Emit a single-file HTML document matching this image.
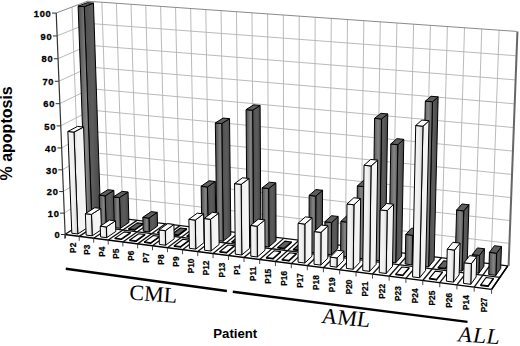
<!DOCTYPE html>
<html><head><meta charset="utf-8"><style>
html,body{margin:0;padding:0;background:#fff;}
body{width:520px;height:346px;overflow:hidden;position:relative;}
svg{position:absolute;left:0;top:0;}
.yt{font-family:"Liberation Sans",sans-serif;font-weight:bold;font-size:8.6px;letter-spacing:0.7px;fill:#000;stroke:#000;stroke-width:0.3px;}
.ct{font-family:"Liberation Sans",sans-serif;font-weight:bold;font-size:8px;fill:#000;stroke:#000;stroke-width:0.2px;}
.gl{font-family:"Liberation Serif",serif;font-size:22px;fill:#000;}
.ax{font-family:"Liberation Sans",sans-serif;font-weight:bold;fill:#000;}
</style></head><body>
<svg width="520" height="346" viewBox="0 0 520 346">
<defs>
<linearGradient id="df" x1="0" y1="0" x2="1" y2="0"><stop offset="0" stop-color="#464646"/><stop offset="0.2" stop-color="#5e5e5e"/><stop offset="0.6" stop-color="#858585"/><stop offset="0.9" stop-color="#666"/><stop offset="1" stop-color="#4a4a4a"/></linearGradient>
<linearGradient id="ds" x1="0" y1="0" x2="1" y2="0"><stop offset="0" stop-color="#4e4e4e"/><stop offset="0.5" stop-color="#5c5c5c"/><stop offset="1" stop-color="#454545"/></linearGradient>
<linearGradient id="wf" x1="0" y1="0" x2="1" y2="0"><stop offset="0" stop-color="#f4f4f4"/><stop offset="0.6" stop-color="#f0f0f0"/><stop offset="0.9" stop-color="#d6d6d6"/><stop offset="1" stop-color="#c4c4c4"/></linearGradient>
<linearGradient id="ws" x1="0" y1="0" x2="1" y2="0"><stop offset="0" stop-color="#d4d4d4"/><stop offset="0.25" stop-color="#f2f2f2"/><stop offset="1" stop-color="#f6f6f6"/></linearGradient>
</defs>
<polygon points="94.89,215.17 507.79,265.89 516.63,31.42 87.45,1.23" fill="#fff" stroke="none"/>
<polygon points="64.90,234.51 94.89,215.17 87.45,1.23 56.01,13.07" fill="#fff" stroke="none"/>
<polyline points="64.04,213.11 94.17,194.47 508.64,243.29" stroke="#b2b2b2" stroke-width="0.9" fill="none"/>
<polyline points="63.17,191.55 93.44,173.62 509.50,220.50" stroke="#b2b2b2" stroke-width="0.9" fill="none"/>
<polyline points="62.30,169.83 92.71,152.62 510.37,197.53" stroke="#b2b2b2" stroke-width="0.9" fill="none"/>
<polyline points="61.42,147.95 91.98,131.47 511.24,174.37" stroke="#b2b2b2" stroke-width="0.9" fill="none"/>
<polyline points="60.54,125.90 91.24,110.16 512.12,151.03" stroke="#b2b2b2" stroke-width="0.9" fill="none"/>
<polyline points="59.65,103.67 90.49,88.69 513.01,127.49" stroke="#b2b2b2" stroke-width="0.9" fill="none"/>
<polyline points="58.75,81.28 89.74,67.07 513.90,103.77" stroke="#b2b2b2" stroke-width="0.9" fill="none"/>
<polyline points="57.84,58.72 88.98,45.28 514.80,79.85" stroke="#b2b2b2" stroke-width="0.9" fill="none"/>
<polyline points="56.93,35.98 88.22,23.34 515.71,55.73" stroke="#b2b2b2" stroke-width="0.9" fill="none"/>
<line x1="108.82" y1="216.88" x2="101.88" y2="2.24" stroke="#b2b2b2" stroke-width="0.9" fill="none"/>
<line x1="122.84" y1="218.60" x2="116.41" y2="3.26" stroke="#b2b2b2" stroke-width="0.9" fill="none"/>
<line x1="136.96" y1="220.34" x2="131.04" y2="4.29" stroke="#b2b2b2" stroke-width="0.9" fill="none"/>
<line x1="151.18" y1="222.08" x2="145.78" y2="5.33" stroke="#b2b2b2" stroke-width="0.9" fill="none"/>
<line x1="165.50" y1="223.84" x2="160.62" y2="6.37" stroke="#b2b2b2" stroke-width="0.9" fill="none"/>
<line x1="179.92" y1="225.61" x2="175.57" y2="7.43" stroke="#b2b2b2" stroke-width="0.9" fill="none"/>
<line x1="194.44" y1="227.40" x2="190.63" y2="8.48" stroke="#b2b2b2" stroke-width="0.9" fill="none"/>
<line x1="209.06" y1="229.19" x2="205.80" y2="9.55" stroke="#b2b2b2" stroke-width="0.9" fill="none"/>
<line x1="223.79" y1="231.00" x2="221.08" y2="10.63" stroke="#b2b2b2" stroke-width="0.9" fill="none"/>
<line x1="238.62" y1="232.82" x2="236.48" y2="11.71" stroke="#b2b2b2" stroke-width="0.9" fill="none"/>
<line x1="253.55" y1="234.66" x2="251.99" y2="12.80" stroke="#b2b2b2" stroke-width="0.9" fill="none"/>
<line x1="268.59" y1="236.51" x2="267.61" y2="13.90" stroke="#b2b2b2" stroke-width="0.9" fill="none"/>
<line x1="283.74" y1="238.37" x2="283.34" y2="15.01" stroke="#b2b2b2" stroke-width="0.9" fill="none"/>
<line x1="299.00" y1="240.24" x2="299.20" y2="16.12" stroke="#b2b2b2" stroke-width="0.9" fill="none"/>
<line x1="314.37" y1="242.13" x2="315.17" y2="17.24" stroke="#b2b2b2" stroke-width="0.9" fill="none"/>
<line x1="329.84" y1="244.03" x2="331.27" y2="18.38" stroke="#b2b2b2" stroke-width="0.9" fill="none"/>
<line x1="345.44" y1="245.95" x2="347.48" y2="19.52" stroke="#b2b2b2" stroke-width="0.9" fill="none"/>
<line x1="361.14" y1="247.88" x2="363.82" y2="20.67" stroke="#b2b2b2" stroke-width="0.9" fill="none"/>
<line x1="376.96" y1="249.82" x2="380.28" y2="21.82" stroke="#b2b2b2" stroke-width="0.9" fill="none"/>
<line x1="392.89" y1="251.78" x2="396.87" y2="22.99" stroke="#b2b2b2" stroke-width="0.9" fill="none"/>
<line x1="408.94" y1="253.75" x2="413.59" y2="24.17" stroke="#b2b2b2" stroke-width="0.9" fill="none"/>
<line x1="425.11" y1="255.74" x2="430.43" y2="25.35" stroke="#b2b2b2" stroke-width="0.9" fill="none"/>
<line x1="441.40" y1="257.74" x2="447.40" y2="26.55" stroke="#b2b2b2" stroke-width="0.9" fill="none"/>
<line x1="457.82" y1="259.75" x2="464.51" y2="27.75" stroke="#b2b2b2" stroke-width="0.9" fill="none"/>
<line x1="474.35" y1="261.79" x2="481.75" y2="28.96" stroke="#b2b2b2" stroke-width="0.9" fill="none"/>
<line x1="491.01" y1="263.83" x2="499.12" y2="30.18" stroke="#b2b2b2" stroke-width="0.9" fill="none"/>
<line x1="80.17" y1="224.66" x2="72.03" y2="7.03" stroke="#b2b2b2" stroke-width="0.9" fill="none"/>
<line x1="94.89" y1="215.17" x2="87.45" y2="1.23" stroke="#b2b2b2" stroke-width="0.9" fill="none"/>
<polyline points="56.01,13.07 87.45,1.23 516.63,31.42" stroke="#8a8a8a" stroke-width="1" fill="none"/>
<line x1="508.59" y1="265.89" x2="517.43" y2="31.42" stroke="#666" stroke-width="2"/>
<polygon points="64.90,234.51 491.59,289.37 507.79,265.89 94.89,215.17" fill="#fff" stroke="none"/>
<line x1="64.90" y1="234.51" x2="94.89" y2="215.17" stroke="#111" stroke-width="1.3" fill="none"/>
<line x1="79.24" y1="236.35" x2="108.82" y2="216.88" stroke="#111" stroke-width="1.3" fill="none"/>
<line x1="93.68" y1="238.21" x2="122.84" y2="218.60" stroke="#111" stroke-width="1.3" fill="none"/>
<line x1="108.23" y1="240.08" x2="136.96" y2="220.34" stroke="#111" stroke-width="1.3" fill="none"/>
<line x1="122.89" y1="241.97" x2="151.18" y2="222.08" stroke="#111" stroke-width="1.3" fill="none"/>
<line x1="137.64" y1="243.86" x2="165.50" y2="223.84" stroke="#111" stroke-width="1.3" fill="none"/>
<line x1="152.51" y1="245.77" x2="179.92" y2="225.61" stroke="#111" stroke-width="1.3" fill="none"/>
<line x1="167.48" y1="247.70" x2="194.44" y2="227.40" stroke="#111" stroke-width="1.3" fill="none"/>
<line x1="182.56" y1="249.64" x2="209.06" y2="229.19" stroke="#111" stroke-width="1.3" fill="none"/>
<line x1="197.76" y1="251.59" x2="223.79" y2="231.00" stroke="#111" stroke-width="1.3" fill="none"/>
<line x1="213.06" y1="253.56" x2="238.62" y2="232.82" stroke="#111" stroke-width="1.3" fill="none"/>
<line x1="228.48" y1="255.54" x2="253.55" y2="234.66" stroke="#111" stroke-width="1.3" fill="none"/>
<line x1="244.01" y1="257.54" x2="268.59" y2="236.51" stroke="#111" stroke-width="1.3" fill="none"/>
<line x1="259.66" y1="259.55" x2="283.74" y2="238.37" stroke="#111" stroke-width="1.3" fill="none"/>
<line x1="275.42" y1="261.58" x2="299.00" y2="240.24" stroke="#111" stroke-width="1.3" fill="none"/>
<line x1="291.30" y1="263.62" x2="314.37" y2="242.13" stroke="#111" stroke-width="1.3" fill="none"/>
<line x1="307.30" y1="265.68" x2="329.84" y2="244.03" stroke="#111" stroke-width="1.3" fill="none"/>
<line x1="323.43" y1="267.75" x2="345.44" y2="245.95" stroke="#111" stroke-width="1.3" fill="none"/>
<line x1="339.67" y1="269.84" x2="361.14" y2="247.88" stroke="#111" stroke-width="1.3" fill="none"/>
<line x1="356.04" y1="271.94" x2="376.96" y2="249.82" stroke="#111" stroke-width="1.3" fill="none"/>
<line x1="372.53" y1="274.06" x2="392.89" y2="251.78" stroke="#111" stroke-width="1.3" fill="none"/>
<line x1="389.15" y1="276.20" x2="408.94" y2="253.75" stroke="#111" stroke-width="1.3" fill="none"/>
<line x1="405.89" y1="278.35" x2="425.11" y2="255.74" stroke="#111" stroke-width="1.3" fill="none"/>
<line x1="422.77" y1="280.52" x2="441.40" y2="257.74" stroke="#111" stroke-width="1.3" fill="none"/>
<line x1="439.77" y1="282.71" x2="457.82" y2="259.75" stroke="#111" stroke-width="1.3" fill="none"/>
<line x1="456.91" y1="284.91" x2="474.35" y2="261.79" stroke="#111" stroke-width="1.3" fill="none"/>
<line x1="474.18" y1="287.13" x2="491.01" y2="263.83" stroke="#111" stroke-width="1.3" fill="none"/>
<line x1="491.59" y1="289.37" x2="507.79" y2="265.89" stroke="#111" stroke-width="1.3" fill="none"/>
<line x1="80.17" y1="224.66" x2="499.85" y2="277.40" stroke="#111" stroke-width="1.3" fill="none"/>
<line x1="94.89" y1="215.17" x2="507.79" y2="265.89" stroke="#111" stroke-width="1.3" fill="none"/>
<polygon points="91.97,224.76 100.74,219.02 93.45,3.11 84.26,6.62" fill="url(#ds)" stroke="#000" stroke-width="1" stroke-linejoin="round"/><polygon points="86.04,224.02 91.97,224.76 84.26,6.62 78.12,6.18" fill="url(#df)" stroke="#000" stroke-width="1" stroke-linejoin="round"/><polygon points="78.12,6.18 84.26,6.62 93.45,3.11 87.37,2.68" fill="#5e5e5e" stroke="#000" stroke-width="1" stroke-linejoin="round"/>
<polygon points="106.15,226.53 114.79,220.75 113.84,190.39 105.14,195.87" fill="url(#ds)" stroke="#000" stroke-width="1" stroke-linejoin="round"/><polygon points="100.18,225.79 106.15,226.53 105.14,195.87 99.14,195.16" fill="url(#df)" stroke="#000" stroke-width="1" stroke-linejoin="round"/><polygon points="99.14,195.16 105.14,195.87 113.84,190.39 107.90,189.70" fill="#5e5e5e" stroke="#000" stroke-width="1" stroke-linejoin="round"/>
<polygon points="120.42,228.32 128.95,222.50 128.07,192.04 119.49,197.56" fill="url(#ds)" stroke="#000" stroke-width="1" stroke-linejoin="round"/><polygon points="114.41,227.57 120.42,228.32 119.49,197.56 113.45,196.85" fill="url(#df)" stroke="#000" stroke-width="1" stroke-linejoin="round"/><polygon points="113.45,196.85 119.49,197.56 128.07,192.04 122.08,191.35" fill="#5e5e5e" stroke="#000" stroke-width="1" stroke-linejoin="round"/>
<polygon points="134.80,230.13 143.20,224.27 143.18,223.64 134.78,229.49" fill="#666" stroke="#000" stroke-width="1.1" stroke-linejoin="round"/><polygon points="128.75,229.37 134.80,230.13 134.78,229.49 128.73,228.73" fill="#666" stroke="#000" stroke-width="1.1" stroke-linejoin="round"/><polygon points="128.73,228.73 134.78,229.49 143.18,223.64 137.18,222.90" fill="#5e5e5e" stroke="#000" stroke-width="1.1" stroke-linejoin="round"/>
<polygon points="149.28,231.94 157.55,226.04 157.22,212.34 148.93,218.10" fill="url(#ds)" stroke="#000" stroke-width="1" stroke-linejoin="round"/><polygon points="143.19,231.18 149.28,231.94 148.93,218.10 142.82,217.36" fill="url(#df)" stroke="#000" stroke-width="1" stroke-linejoin="round"/><polygon points="142.82,217.36 148.93,218.10 157.22,212.34 151.17,211.61" fill="#5e5e5e" stroke="#000" stroke-width="1" stroke-linejoin="round"/>
<polygon points="163.86,233.77 172.00,227.83 171.98,227.19 163.85,233.13" fill="#666" stroke="#000" stroke-width="1.1" stroke-linejoin="round"/><polygon points="157.73,233.00 163.86,233.77 163.85,233.13 157.71,232.36" fill="#666" stroke="#000" stroke-width="1.1" stroke-linejoin="round"/><polygon points="157.71,232.36 163.85,233.13 171.98,227.19 165.90,226.44" fill="#5e5e5e" stroke="#000" stroke-width="1.1" stroke-linejoin="round"/>
<polygon points="178.55,235.61 186.55,229.63 186.53,228.78 178.53,234.75" fill="#666" stroke="#000" stroke-width="1.1" stroke-linejoin="round"/><polygon points="172.37,234.83 178.55,235.61 178.53,234.75 172.35,233.98" fill="#666" stroke="#000" stroke-width="1.1" stroke-linejoin="round"/><polygon points="172.35,233.98 178.53,234.75 186.53,228.78 180.41,228.02" fill="#5e5e5e" stroke="#000" stroke-width="1.1" stroke-linejoin="round"/>
<polygon points="193.34,237.46 201.20,231.44 201.19,230.80 193.33,236.82" fill="#666" stroke="#000" stroke-width="1.1" stroke-linejoin="round"/><polygon points="187.12,236.68 193.34,237.46 193.33,236.82 187.10,236.04" fill="#666" stroke="#000" stroke-width="1.1" stroke-linejoin="round"/><polygon points="187.10,236.04 193.33,236.82 201.19,230.80 195.03,230.04" fill="#5e5e5e" stroke="#000" stroke-width="1.1" stroke-linejoin="round"/>
<polygon points="208.24,239.33 215.96,233.26 215.26,181.47 207.45,187.00" fill="url(#ds)" stroke="#000" stroke-width="1" stroke-linejoin="round"/><polygon points="201.97,238.54 208.24,239.33 207.45,187.00 201.13,186.28" fill="url(#df)" stroke="#000" stroke-width="1" stroke-linejoin="round"/><polygon points="201.13,186.28 207.45,187.00 215.26,181.47 208.99,180.77" fill="#5e5e5e" stroke="#000" stroke-width="1" stroke-linejoin="round"/>
<polygon points="223.24,241.21 230.83,235.10 229.54,118.67 221.78,123.56" fill="url(#ds)" stroke="#000" stroke-width="1" stroke-linejoin="round"/><polygon points="216.93,240.42 223.24,241.21 221.78,123.56 215.34,122.93" fill="url(#df)" stroke="#000" stroke-width="1" stroke-linejoin="round"/><polygon points="215.34,122.93 221.78,123.56 229.54,118.67 223.16,118.06" fill="#5e5e5e" stroke="#000" stroke-width="1" stroke-linejoin="round"/>
<polygon points="238.35,243.10 245.80,236.95 245.79,236.31 238.35,242.45" fill="#666" stroke="#000" stroke-width="1.1" stroke-linejoin="round"/><polygon points="231.99,242.30 238.35,243.10 238.35,242.45 231.98,241.66" fill="#666" stroke="#000" stroke-width="1.1" stroke-linejoin="round"/><polygon points="231.98,241.66 238.35,242.45 245.79,236.31 239.49,235.53" fill="#5e5e5e" stroke="#000" stroke-width="1.1" stroke-linejoin="round"/>
<polygon points="253.57,245.01 260.87,238.81 260.10,105.44 252.62,110.22" fill="url(#ds)" stroke="#000" stroke-width="1" stroke-linejoin="round"/><polygon points="247.17,244.21 253.57,245.01 252.62,110.22 246.06,109.61" fill="url(#df)" stroke="#000" stroke-width="1" stroke-linejoin="round"/><polygon points="246.06,109.61 252.62,110.22 260.10,105.44 253.61,104.84" fill="#5e5e5e" stroke="#000" stroke-width="1" stroke-linejoin="round"/>
<polygon points="268.90,246.93 276.06,240.69 275.88,182.93 268.65,188.57" fill="url(#ds)" stroke="#000" stroke-width="1" stroke-linejoin="round"/><polygon points="262.45,246.12 268.90,246.93 268.65,188.57 262.13,187.84" fill="url(#df)" stroke="#000" stroke-width="1" stroke-linejoin="round"/><polygon points="262.13,187.84 268.65,188.57 275.88,182.93 269.42,182.22" fill="#5e5e5e" stroke="#000" stroke-width="1" stroke-linejoin="round"/>
<polygon points="284.35,248.86 291.35,242.58 291.35,241.93 284.35,248.21" fill="#666" stroke="#000" stroke-width="1.1" stroke-linejoin="round"/><polygon points="277.85,248.05 284.35,248.86 284.35,248.21 277.85,247.40" fill="#666" stroke="#000" stroke-width="1.1" stroke-linejoin="round"/><polygon points="277.85,247.40 284.35,248.21 291.35,241.93 284.91,241.14" fill="#5e5e5e" stroke="#000" stroke-width="1.1" stroke-linejoin="round"/>
<polygon points="299.90,250.81 306.76,244.49 306.76,243.83 299.91,250.16" fill="#666" stroke="#000" stroke-width="1.1" stroke-linejoin="round"/><polygon points="293.36,249.99 299.90,250.81 299.91,250.16 293.36,249.34" fill="#666" stroke="#000" stroke-width="1.1" stroke-linejoin="round"/><polygon points="293.36,249.34 299.91,250.16 306.76,243.83 300.27,243.03" fill="#5e5e5e" stroke="#000" stroke-width="1.1" stroke-linejoin="round"/>
<polygon points="315.58,252.78 322.27,246.40 322.55,190.29 315.79,196.08" fill="url(#ds)" stroke="#000" stroke-width="1" stroke-linejoin="round"/><polygon points="308.98,251.95 315.58,252.78 315.79,196.08 309.13,195.33" fill="url(#df)" stroke="#000" stroke-width="1" stroke-linejoin="round"/><polygon points="309.13,195.33 315.79,196.08 322.55,190.29 315.96,189.56" fill="#5e5e5e" stroke="#000" stroke-width="1" stroke-linejoin="round"/>
<polygon points="331.36,254.76 337.90,248.34 338.15,216.46 331.57,222.54" fill="url(#ds)" stroke="#000" stroke-width="1" stroke-linejoin="round"/><polygon points="324.72,253.92 331.36,254.76 331.57,222.54 324.89,221.76" fill="url(#df)" stroke="#000" stroke-width="1" stroke-linejoin="round"/><polygon points="324.89,221.76 331.57,222.54 338.15,216.46 331.53,215.69" fill="#5e5e5e" stroke="#000" stroke-width="1" stroke-linejoin="round"/>
<polygon points="347.26,256.75 353.65,250.28 354.00,216.08 347.59,222.19" fill="url(#ds)" stroke="#000" stroke-width="1" stroke-linejoin="round"/><polygon points="340.57,255.91 347.26,256.75 347.59,222.19 340.85,221.40" fill="url(#df)" stroke="#000" stroke-width="1" stroke-linejoin="round"/><polygon points="340.85,221.40 347.59,222.19 354.00,216.08 347.34,215.31" fill="#5e5e5e" stroke="#000" stroke-width="1" stroke-linejoin="round"/>
<polygon points="363.28,258.76 369.50,252.24 370.45,180.94 364.16,186.69" fill="url(#ds)" stroke="#000" stroke-width="1" stroke-linejoin="round"/><polygon points="356.54,257.91 363.28,258.76 364.16,186.69 357.33,185.95" fill="url(#df)" stroke="#000" stroke-width="1" stroke-linejoin="round"/><polygon points="357.33,185.95 364.16,186.69 370.45,180.94 363.69,180.21" fill="#5e5e5e" stroke="#000" stroke-width="1" stroke-linejoin="round"/>
<polygon points="379.42,260.78 385.48,254.22 387.74,113.94 381.56,118.98" fill="url(#ds)" stroke="#000" stroke-width="1" stroke-linejoin="round"/><polygon points="372.63,259.93 379.42,260.78 381.56,118.98 374.59,118.34" fill="url(#df)" stroke="#000" stroke-width="1" stroke-linejoin="round"/><polygon points="374.59,118.34 381.56,118.98 387.74,113.94 380.85,113.31" fill="#5e5e5e" stroke="#000" stroke-width="1" stroke-linejoin="round"/>
<polygon points="395.69,262.82 401.58,256.21 403.79,139.32 397.80,144.66" fill="url(#ds)" stroke="#000" stroke-width="1" stroke-linejoin="round"/><polygon points="388.84,261.96 395.69,262.82 397.80,144.66 390.81,143.97" fill="url(#df)" stroke="#000" stroke-width="1" stroke-linejoin="round"/><polygon points="390.81,143.97 397.80,144.66 403.79,139.32 396.87,138.65" fill="#5e5e5e" stroke="#000" stroke-width="1" stroke-linejoin="round"/>
<polygon points="412.07,264.87 417.79,258.21 418.43,228.94 412.68,235.29" fill="url(#ds)" stroke="#000" stroke-width="1" stroke-linejoin="round"/><polygon points="405.17,264.01 412.07,264.87 412.68,235.29 405.75,234.47" fill="url(#df)" stroke="#000" stroke-width="1" stroke-linejoin="round"/><polygon points="405.75,234.47 412.68,235.29 418.43,228.94 411.57,228.14" fill="#5e5e5e" stroke="#000" stroke-width="1" stroke-linejoin="round"/>
<polygon points="428.58,266.94 434.12,260.23 438.15,96.87 432.49,101.77" fill="url(#ds)" stroke="#000" stroke-width="1" stroke-linejoin="round"/><polygon points="421.63,266.07 428.58,266.94 432.49,101.77 425.34,101.15" fill="url(#df)" stroke="#000" stroke-width="1" stroke-linejoin="round"/><polygon points="425.34,101.15 432.49,101.77 438.15,96.87 431.07,96.25" fill="#5e5e5e" stroke="#000" stroke-width="1" stroke-linejoin="round"/>
<polygon points="445.21,269.02 450.58,262.27 450.60,261.60 445.22,268.34" fill="#666" stroke="#000" stroke-width="1.1" stroke-linejoin="round"/><polygon points="438.21,268.14 445.21,269.02 445.22,268.34 438.22,267.47" fill="#666" stroke="#000" stroke-width="1.1" stroke-linejoin="round"/><polygon points="438.22,267.47 445.22,268.34 450.60,261.60 443.67,260.74" fill="#5e5e5e" stroke="#000" stroke-width="1.1" stroke-linejoin="round"/>
<polygon points="461.96,271.12 467.16,264.32 468.98,204.75 463.75,210.91" fill="url(#ds)" stroke="#000" stroke-width="1" stroke-linejoin="round"/><polygon points="454.91,270.24 461.96,271.12 463.75,210.91 456.62,210.12" fill="url(#df)" stroke="#000" stroke-width="1" stroke-linejoin="round"/><polygon points="456.62,210.12 463.75,210.91 468.98,204.75 461.92,203.98" fill="#5e5e5e" stroke="#000" stroke-width="1" stroke-linejoin="round"/>
<polygon points="478.85,273.24 483.87,266.38 484.45,248.75 479.43,255.42" fill="url(#ds)" stroke="#000" stroke-width="1" stroke-linejoin="round"/><polygon points="471.74,272.35 478.85,273.24 479.43,255.42 472.30,254.55" fill="url(#df)" stroke="#000" stroke-width="1" stroke-linejoin="round"/><polygon points="472.30,254.55 479.43,255.42 484.45,248.75 477.40,247.91" fill="#5e5e5e" stroke="#000" stroke-width="1" stroke-linejoin="round"/>
<polygon points="495.86,275.37 500.70,268.46 501.49,246.56 496.65,253.23" fill="url(#ds)" stroke="#000" stroke-width="1" stroke-linejoin="round"/><polygon points="488.70,274.47 495.86,275.37 496.65,253.23 489.46,252.37" fill="url(#df)" stroke="#000" stroke-width="1" stroke-linejoin="round"/><polygon points="489.46,252.37 496.65,253.23 501.49,246.56 494.38,245.72" fill="#5e5e5e" stroke="#000" stroke-width="1" stroke-linejoin="round"/>
<polygon points="77.83,234.01 87.21,227.87 83.56,127.04 73.98,132.10" fill="url(#ws)" stroke="#000" stroke-width="1" stroke-linejoin="round"/><polygon points="71.82,233.24 77.83,234.01 73.98,132.10 67.87,131.48" fill="url(#wf)" stroke="#000" stroke-width="1" stroke-linejoin="round"/><polygon points="67.87,131.48 73.98,132.10 83.56,127.04 77.51,126.42" fill="#fafafa" stroke="#000" stroke-width="1" stroke-linejoin="round"/>
<polygon points="92.21,235.85 101.46,229.67 100.74,208.44 91.45,214.40" fill="url(#ws)" stroke="#000" stroke-width="1" stroke-linejoin="round"/><polygon points="86.16,235.08 92.21,235.85 91.45,214.40 85.38,213.65" fill="url(#wf)" stroke="#000" stroke-width="1" stroke-linejoin="round"/><polygon points="85.38,213.65 91.45,214.40 100.74,208.44 94.72,207.71" fill="#fafafa" stroke="#000" stroke-width="1" stroke-linejoin="round"/>
<polygon points="106.69,237.70 115.80,231.48 115.47,220.85 106.34,226.96" fill="url(#ws)" stroke="#000" stroke-width="1" stroke-linejoin="round"/><polygon points="100.59,236.92 106.69,237.70 106.34,226.96 100.23,226.20" fill="url(#wf)" stroke="#000" stroke-width="1" stroke-linejoin="round"/><polygon points="100.23,226.20 106.34,226.96 115.47,220.85 109.42,220.10" fill="#fafafa" stroke="#000" stroke-width="1" stroke-linejoin="round"/>
<polygon points="121.27,239.57 130.25,233.30 130.23,232.67 121.25,238.93" fill="#fafafa" stroke="#000" stroke-width="1.1" stroke-linejoin="round"/><polygon points="115.13,238.79 121.27,239.57 121.25,238.93 115.11,238.14" fill="#fafafa" stroke="#000" stroke-width="1.1" stroke-linejoin="round"/><polygon points="115.11,238.14 121.25,238.93 130.23,232.67 124.15,231.90" fill="#fafafa" stroke="#000" stroke-width="1.1" stroke-linejoin="round"/>
<polygon points="135.96,241.45 144.80,235.14 144.78,234.50 135.94,240.80" fill="#fafafa" stroke="#000" stroke-width="1.1" stroke-linejoin="round"/><polygon points="129.78,240.66 135.96,241.45 135.94,240.80 129.76,240.01" fill="#fafafa" stroke="#000" stroke-width="1.1" stroke-linejoin="round"/><polygon points="129.76,240.01 135.94,240.80 144.78,234.50 138.66,233.73" fill="#fafafa" stroke="#000" stroke-width="1.1" stroke-linejoin="round"/>
<polygon points="150.75,243.35 159.45,236.99 159.44,236.35 150.73,242.70" fill="#fafafa" stroke="#000" stroke-width="1.1" stroke-linejoin="round"/><polygon points="144.53,242.55 150.75,243.35 150.73,242.70 144.51,241.90" fill="#fafafa" stroke="#000" stroke-width="1.1" stroke-linejoin="round"/><polygon points="144.51,241.90 150.73,242.70 159.44,236.35 153.27,235.57" fill="#fafafa" stroke="#000" stroke-width="1.1" stroke-linejoin="round"/>
<polygon points="165.65,245.25 174.21,238.85 173.91,224.42 165.32,230.66" fill="url(#ws)" stroke="#000" stroke-width="1" stroke-linejoin="round"/><polygon points="159.38,244.45 165.65,245.25 165.32,230.66 159.04,229.88" fill="url(#wf)" stroke="#000" stroke-width="1" stroke-linejoin="round"/><polygon points="159.04,229.88 165.32,230.66 173.91,224.42 167.68,223.65" fill="#fafafa" stroke="#000" stroke-width="1" stroke-linejoin="round"/>
<polygon points="180.66,247.17 189.07,240.73 189.06,240.08 180.65,246.52" fill="#fafafa" stroke="#000" stroke-width="1.1" stroke-linejoin="round"/><polygon points="174.34,246.37 180.66,247.17 180.65,246.52 174.33,245.71" fill="#fafafa" stroke="#000" stroke-width="1.1" stroke-linejoin="round"/><polygon points="174.33,245.71 180.65,246.52 189.06,240.08 182.81,239.29" fill="#fafafa" stroke="#000" stroke-width="1.1" stroke-linejoin="round"/>
<polygon points="195.78,249.11 204.04,242.62 203.59,213.92 195.28,220.10" fill="url(#ws)" stroke="#000" stroke-width="1" stroke-linejoin="round"/><polygon points="189.41,248.30 195.78,249.11 195.28,220.10 188.88,219.33" fill="url(#wf)" stroke="#000" stroke-width="1" stroke-linejoin="round"/><polygon points="188.88,219.33 195.28,220.10 203.59,213.92 197.26,213.16" fill="#fafafa" stroke="#000" stroke-width="1" stroke-linejoin="round"/>
<polygon points="211.01,251.06 219.12,244.52 218.71,213.10 210.54,219.29" fill="url(#ws)" stroke="#000" stroke-width="1" stroke-linejoin="round"/><polygon points="204.60,250.24 211.01,251.06 210.54,219.29 204.10,218.52" fill="url(#wf)" stroke="#000" stroke-width="1" stroke-linejoin="round"/><polygon points="204.10,218.52 210.54,219.29 218.71,213.10 212.33,212.34" fill="#fafafa" stroke="#000" stroke-width="1" stroke-linejoin="round"/>
<polygon points="226.35,253.02 234.31,246.44 234.31,245.79 226.34,252.36" fill="#fafafa" stroke="#000" stroke-width="1.1" stroke-linejoin="round"/><polygon points="219.89,252.20 226.35,253.02 226.34,252.36 219.88,251.54" fill="#fafafa" stroke="#000" stroke-width="1.1" stroke-linejoin="round"/><polygon points="219.88,251.54 226.34,252.36 234.31,245.79 227.91,244.98" fill="#fafafa" stroke="#000" stroke-width="1.1" stroke-linejoin="round"/>
<polygon points="241.80,255.00 249.61,248.37 249.07,178.49 241.15,184.35" fill="url(#ws)" stroke="#000" stroke-width="1" stroke-linejoin="round"/><polygon points="235.29,254.17 241.80,255.00 241.15,184.35 234.57,183.62" fill="url(#wf)" stroke="#000" stroke-width="1" stroke-linejoin="round"/><polygon points="234.57,183.62 241.15,184.35 249.07,178.49 242.55,177.77" fill="#fafafa" stroke="#000" stroke-width="1" stroke-linejoin="round"/>
<polygon points="257.37,257.00 265.02,250.32 264.87,219.90 257.17,226.25" fill="url(#ws)" stroke="#000" stroke-width="1" stroke-linejoin="round"/><polygon points="250.81,256.16 257.37,257.00 257.17,226.25 250.58,225.46" fill="url(#wf)" stroke="#000" stroke-width="1" stroke-linejoin="round"/><polygon points="250.58,225.46 257.17,226.25 264.87,219.90 258.35,219.13" fill="#fafafa" stroke="#000" stroke-width="1" stroke-linejoin="round"/>
<polygon points="273.05,259.00 280.55,252.28 280.55,251.62 273.05,258.34" fill="#fafafa" stroke="#000" stroke-width="1.1" stroke-linejoin="round"/><polygon points="266.45,258.16 273.05,259.00 273.05,258.34 266.45,257.49" fill="#fafafa" stroke="#000" stroke-width="1.1" stroke-linejoin="round"/><polygon points="266.45,257.49 273.05,258.34 280.55,251.62 274.01,250.79" fill="#fafafa" stroke="#000" stroke-width="1.1" stroke-linejoin="round"/>
<polygon points="288.85,261.03 296.19,254.25 296.19,253.59 288.85,260.36" fill="#fafafa" stroke="#000" stroke-width="1.1" stroke-linejoin="round"/><polygon points="282.20,260.18 288.85,261.03 288.85,260.36 282.20,259.51" fill="#fafafa" stroke="#000" stroke-width="1.1" stroke-linejoin="round"/><polygon points="282.20,259.51 288.85,260.36 296.19,253.59 289.60,252.76" fill="#fafafa" stroke="#000" stroke-width="1.1" stroke-linejoin="round"/>
<polygon points="304.77,263.06 311.94,256.24 312.06,217.68 304.84,224.08" fill="url(#ws)" stroke="#000" stroke-width="1" stroke-linejoin="round"/><polygon points="298.07,262.21 304.77,263.06 304.84,224.08 298.10,223.28" fill="url(#wf)" stroke="#000" stroke-width="1" stroke-linejoin="round"/><polygon points="298.10,223.28 304.84,224.08 312.06,217.68 305.39,216.89" fill="#fafafa" stroke="#000" stroke-width="1" stroke-linejoin="round"/>
<polygon points="320.80,265.12 327.81,258.24 328.00,225.85 320.96,232.37" fill="url(#ws)" stroke="#000" stroke-width="1" stroke-linejoin="round"/><polygon points="314.05,264.25 320.80,265.12 320.96,232.37 314.17,231.55" fill="url(#wf)" stroke="#000" stroke-width="1" stroke-linejoin="round"/><polygon points="314.17,231.55 320.96,232.37 328.00,225.85 321.29,225.05" fill="#fafafa" stroke="#000" stroke-width="1" stroke-linejoin="round"/>
<polygon points="336.96,267.19 343.80,260.26 343.88,251.11 337.03,257.93" fill="url(#ws)" stroke="#000" stroke-width="1" stroke-linejoin="round"/><polygon points="330.16,266.32 336.96,267.19 337.03,257.93 330.22,257.08" fill="url(#wf)" stroke="#000" stroke-width="1" stroke-linejoin="round"/><polygon points="330.22,257.08 337.03,257.93 343.88,251.11 337.14,250.27" fill="#fafafa" stroke="#000" stroke-width="1" stroke-linejoin="round"/>
<polygon points="353.24,269.27 359.91,262.29 360.65,198.52 353.92,204.78" fill="url(#ws)" stroke="#000" stroke-width="1" stroke-linejoin="round"/><polygon points="346.39,268.39 353.24,269.27 353.92,204.78 346.99,204.00" fill="url(#wf)" stroke="#000" stroke-width="1" stroke-linejoin="round"/><polygon points="346.99,204.00 353.92,204.78 360.65,198.52 353.79,197.75" fill="#fafafa" stroke="#000" stroke-width="1" stroke-linejoin="round"/>
<polygon points="369.65,271.37 376.14,264.34 377.65,160.14 371.05,165.99" fill="url(#ws)" stroke="#000" stroke-width="1" stroke-linejoin="round"/><polygon points="362.74,270.49 369.65,271.37 371.05,165.99 364.02,165.26" fill="url(#wf)" stroke="#000" stroke-width="1" stroke-linejoin="round"/><polygon points="364.02,165.26 371.05,165.99 377.65,160.14 370.69,159.43" fill="#fafafa" stroke="#000" stroke-width="1" stroke-linejoin="round"/>
<polygon points="386.18,273.49 392.49,266.40 393.57,204.26 387.20,210.65" fill="url(#ws)" stroke="#000" stroke-width="1" stroke-linejoin="round"/><polygon points="379.22,272.60 386.18,273.49 387.20,210.65 380.16,209.85" fill="url(#wf)" stroke="#000" stroke-width="1" stroke-linejoin="round"/><polygon points="380.16,209.85 387.20,210.65 393.57,204.26 386.61,203.48" fill="#fafafa" stroke="#000" stroke-width="1" stroke-linejoin="round"/>
<polygon points="402.83,275.62 408.96,268.48 408.98,267.81 402.84,274.93" fill="#fafafa" stroke="#000" stroke-width="1.1" stroke-linejoin="round"/><polygon points="395.82,274.72 402.83,275.62 402.84,274.93 395.83,274.04" fill="#fafafa" stroke="#000" stroke-width="1.1" stroke-linejoin="round"/><polygon points="395.83,274.04 402.84,274.93 408.98,267.81 402.04,266.93" fill="#fafafa" stroke="#000" stroke-width="1.1" stroke-linejoin="round"/>
<polygon points="419.61,277.77 425.56,270.58 429.04,120.73 422.98,126.19" fill="url(#ws)" stroke="#000" stroke-width="1" stroke-linejoin="round"/><polygon points="412.55,276.86 419.61,277.77 422.98,126.19 415.72,125.51" fill="url(#wf)" stroke="#000" stroke-width="1" stroke-linejoin="round"/><polygon points="415.72,125.51 422.98,126.19 429.04,120.73 421.86,120.07" fill="#fafafa" stroke="#000" stroke-width="1" stroke-linejoin="round"/>
<polygon points="436.53,279.93 442.29,272.69 442.31,272.01 436.54,279.24" fill="#fafafa" stroke="#000" stroke-width="1.1" stroke-linejoin="round"/><polygon points="429.41,279.02 436.53,279.93 436.54,279.24 429.42,278.33" fill="#fafafa" stroke="#000" stroke-width="1.1" stroke-linejoin="round"/><polygon points="429.42,278.33 436.54,279.24 442.31,272.01 435.27,271.12" fill="#fafafa" stroke="#000" stroke-width="1.1" stroke-linejoin="round"/>
<polygon points="453.57,282.12 459.14,274.82 460.07,243.14 454.47,250.08" fill="url(#ws)" stroke="#000" stroke-width="1" stroke-linejoin="round"/><polygon points="446.40,281.20 453.57,282.12 454.47,250.08 447.26,249.21" fill="url(#wf)" stroke="#000" stroke-width="1" stroke-linejoin="round"/><polygon points="447.26,249.21 454.47,250.08 460.07,243.14 452.93,242.29" fill="#fafafa" stroke="#000" stroke-width="1" stroke-linejoin="round"/>
<polygon points="470.75,284.32 476.13,276.96 476.78,256.50 471.39,263.62" fill="url(#ws)" stroke="#000" stroke-width="1" stroke-linejoin="round"/><polygon points="463.52,283.39 470.75,284.32 471.39,263.62 464.14,262.73" fill="url(#wf)" stroke="#000" stroke-width="1" stroke-linejoin="round"/><polygon points="464.14,262.73 471.39,263.62 476.78,256.50 469.61,255.63" fill="#fafafa" stroke="#000" stroke-width="1" stroke-linejoin="round"/>
<polygon points="488.06,286.53 493.24,279.12 493.26,278.43 488.08,285.83" fill="#fafafa" stroke="#000" stroke-width="1.1" stroke-linejoin="round"/><polygon points="480.77,285.60 488.06,286.53 488.08,285.83 480.79,284.90" fill="#fafafa" stroke="#000" stroke-width="1.1" stroke-linejoin="round"/><polygon points="480.79,284.90 488.08,285.83 493.26,278.43 486.06,277.52" fill="#fafafa" stroke="#000" stroke-width="1.1" stroke-linejoin="round"/>
<line x1="64.90" y1="234.51" x2="491.59" y2="289.37" stroke="#000" stroke-width="1.5"/>
<line x1="491.59" y1="289.37" x2="507.79" y2="265.89" stroke="#000" stroke-width="1.5"/>
<line x1="64.90" y1="234.51" x2="64.90" y2="239.01" stroke="#333" stroke-width="0.9"/>
<line x1="79.24" y1="236.35" x2="79.24" y2="240.85" stroke="#333" stroke-width="0.9"/>
<line x1="93.68" y1="238.21" x2="93.68" y2="242.71" stroke="#333" stroke-width="0.9"/>
<line x1="108.23" y1="240.08" x2="108.23" y2="244.58" stroke="#333" stroke-width="0.9"/>
<line x1="122.89" y1="241.97" x2="122.89" y2="246.47" stroke="#333" stroke-width="0.9"/>
<line x1="137.64" y1="243.86" x2="137.64" y2="248.36" stroke="#333" stroke-width="0.9"/>
<line x1="152.51" y1="245.77" x2="152.51" y2="250.27" stroke="#333" stroke-width="0.9"/>
<line x1="167.48" y1="247.70" x2="167.48" y2="252.20" stroke="#333" stroke-width="0.9"/>
<line x1="182.56" y1="249.64" x2="182.56" y2="254.14" stroke="#333" stroke-width="0.9"/>
<line x1="197.76" y1="251.59" x2="197.76" y2="256.09" stroke="#333" stroke-width="0.9"/>
<line x1="213.06" y1="253.56" x2="213.06" y2="258.06" stroke="#333" stroke-width="0.9"/>
<line x1="228.48" y1="255.54" x2="228.48" y2="260.04" stroke="#333" stroke-width="0.9"/>
<line x1="244.01" y1="257.54" x2="244.01" y2="262.04" stroke="#333" stroke-width="0.9"/>
<line x1="259.66" y1="259.55" x2="259.66" y2="264.05" stroke="#333" stroke-width="0.9"/>
<line x1="275.42" y1="261.58" x2="275.42" y2="266.08" stroke="#333" stroke-width="0.9"/>
<line x1="291.30" y1="263.62" x2="291.30" y2="268.12" stroke="#333" stroke-width="0.9"/>
<line x1="307.30" y1="265.68" x2="307.30" y2="270.18" stroke="#333" stroke-width="0.9"/>
<line x1="323.43" y1="267.75" x2="323.43" y2="272.25" stroke="#333" stroke-width="0.9"/>
<line x1="339.67" y1="269.84" x2="339.67" y2="274.34" stroke="#333" stroke-width="0.9"/>
<line x1="356.04" y1="271.94" x2="356.04" y2="276.44" stroke="#333" stroke-width="0.9"/>
<line x1="372.53" y1="274.06" x2="372.53" y2="278.56" stroke="#333" stroke-width="0.9"/>
<line x1="389.15" y1="276.20" x2="389.15" y2="280.70" stroke="#333" stroke-width="0.9"/>
<line x1="405.89" y1="278.35" x2="405.89" y2="282.85" stroke="#333" stroke-width="0.9"/>
<line x1="422.77" y1="280.52" x2="422.77" y2="285.02" stroke="#333" stroke-width="0.9"/>
<line x1="439.77" y1="282.71" x2="439.77" y2="287.21" stroke="#333" stroke-width="0.9"/>
<line x1="456.91" y1="284.91" x2="456.91" y2="289.41" stroke="#333" stroke-width="0.9"/>
<line x1="474.18" y1="287.13" x2="474.18" y2="291.63" stroke="#333" stroke-width="0.9"/>
<line x1="491.59" y1="289.37" x2="491.59" y2="293.87" stroke="#333" stroke-width="0.9"/>
<line x1="65.30" y1="238.01" x2="56.21" y2="13.07" stroke="#333" stroke-width="1.2"/>
<line x1="60.90" y1="234.51" x2="64.90" y2="234.51" stroke="#333" stroke-width="1"/>
<text transform="translate(60.40,238.21) scale(1.08,1.02)" class="yt" text-anchor="end">0</text>
<line x1="60.04" y1="213.11" x2="64.04" y2="213.11" stroke="#333" stroke-width="1"/>
<text transform="translate(59.54,216.81) scale(1.08,1.02)" class="yt" text-anchor="end">10</text>
<line x1="59.17" y1="191.55" x2="63.17" y2="191.55" stroke="#333" stroke-width="1"/>
<text transform="translate(58.67,195.25) scale(1.08,1.02)" class="yt" text-anchor="end">20</text>
<line x1="58.30" y1="169.83" x2="62.30" y2="169.83" stroke="#333" stroke-width="1"/>
<text transform="translate(57.80,173.53) scale(1.08,1.02)" class="yt" text-anchor="end">30</text>
<line x1="57.42" y1="147.95" x2="61.42" y2="147.95" stroke="#333" stroke-width="1"/>
<text transform="translate(56.92,151.65) scale(1.08,1.02)" class="yt" text-anchor="end">40</text>
<line x1="56.54" y1="125.90" x2="60.54" y2="125.90" stroke="#333" stroke-width="1"/>
<text transform="translate(56.04,129.60) scale(1.08,1.02)" class="yt" text-anchor="end">50</text>
<line x1="55.65" y1="103.67" x2="59.65" y2="103.67" stroke="#333" stroke-width="1"/>
<text transform="translate(55.15,107.37) scale(1.08,1.02)" class="yt" text-anchor="end">60</text>
<line x1="54.75" y1="81.28" x2="58.75" y2="81.28" stroke="#333" stroke-width="1"/>
<text transform="translate(54.25,84.98) scale(1.08,1.02)" class="yt" text-anchor="end">70</text>
<line x1="53.84" y1="58.72" x2="57.84" y2="58.72" stroke="#333" stroke-width="1"/>
<text transform="translate(53.34,62.42) scale(1.08,1.02)" class="yt" text-anchor="end">80</text>
<line x1="52.93" y1="35.98" x2="56.93" y2="35.98" stroke="#333" stroke-width="1"/>
<text transform="translate(52.43,39.68) scale(1.08,1.02)" class="yt" text-anchor="end">90</text>
<line x1="52.01" y1="13.07" x2="56.01" y2="13.07" stroke="#333" stroke-width="1"/>
<text transform="translate(51.51,16.77) scale(1.08,1.02)" class="yt" text-anchor="end">100</text>
<text class="ct" transform="translate(75.86,242.73) rotate(-90) scale(1.04,1.1)" text-anchor="end">P2</text>
<text class="ct" transform="translate(90.25,244.66) rotate(-90) scale(1.04,1.1)" text-anchor="end">P3</text>
<text class="ct" transform="translate(104.75,246.59) rotate(-90) scale(1.04,1.1)" text-anchor="end">P4</text>
<text class="ct" transform="translate(119.35,248.55) rotate(-90) scale(1.04,1.1)" text-anchor="end">P5</text>
<text class="ct" transform="translate(134.05,250.51) rotate(-90) scale(1.04,1.1)" text-anchor="end">P6</text>
<text class="ct" transform="translate(148.86,252.49) rotate(-90) scale(1.04,1.1)" text-anchor="end">P7</text>
<text class="ct" transform="translate(163.78,254.48) rotate(-90) scale(1.04,1.1)" text-anchor="end">P8</text>
<text class="ct" transform="translate(178.81,256.49) rotate(-90) scale(1.04,1.1)" text-anchor="end">P9</text>
<text class="ct" transform="translate(193.95,258.51) rotate(-90) scale(1.04,1.1)" text-anchor="end">P10</text>
<text class="ct" transform="translate(209.20,260.55) rotate(-90) scale(1.04,1.1)" text-anchor="end">P12</text>
<text class="ct" transform="translate(224.56,262.60) rotate(-90) scale(1.04,1.1)" text-anchor="end">P13</text>
<text class="ct" transform="translate(240.03,264.66) rotate(-90) scale(1.04,1.1)" text-anchor="end">P1</text>
<text class="ct" transform="translate(255.62,266.74) rotate(-90) scale(1.04,1.1)" text-anchor="end">P11</text>
<text class="ct" transform="translate(271.33,268.84) rotate(-90) scale(1.04,1.1)" text-anchor="end">P15</text>
<text class="ct" transform="translate(287.15,270.95) rotate(-90) scale(1.04,1.1)" text-anchor="end">P16</text>
<text class="ct" transform="translate(303.09,273.07) rotate(-90) scale(1.04,1.1)" text-anchor="end">P17</text>
<text class="ct" transform="translate(319.15,275.21) rotate(-90) scale(1.04,1.1)" text-anchor="end">P18</text>
<text class="ct" transform="translate(335.33,277.37) rotate(-90) scale(1.04,1.1)" text-anchor="end">P19</text>
<text class="ct" transform="translate(351.64,279.54) rotate(-90) scale(1.04,1.1)" text-anchor="end">P20</text>
<text class="ct" transform="translate(368.07,281.72) rotate(-90) scale(1.04,1.1)" text-anchor="end">P21</text>
<text class="ct" transform="translate(384.62,283.93) rotate(-90) scale(1.04,1.1)" text-anchor="end">P22</text>
<text class="ct" transform="translate(401.30,286.15) rotate(-90) scale(1.04,1.1)" text-anchor="end">P23</text>
<text class="ct" transform="translate(418.11,288.38) rotate(-90) scale(1.04,1.1)" text-anchor="end">P24</text>
<text class="ct" transform="translate(435.05,290.64) rotate(-90) scale(1.04,1.1)" text-anchor="end">P25</text>
<text class="ct" transform="translate(452.12,292.91) rotate(-90) scale(1.04,1.1)" text-anchor="end">P26</text>
<text class="ct" transform="translate(469.33,295.19) rotate(-90) scale(1.04,1.1)" text-anchor="end">P14</text>
<text class="ct" transform="translate(486.67,297.50) rotate(-90) scale(1.04,1.1)" text-anchor="end">P27</text>
<text class="ax" font-size="16px" transform="translate(11.7,180.5) rotate(-90)">% apoptosis</text>
<text class="ax" font-size="13.2px" x="213.3" y="338.2">Patient</text>
<line x1="65.8" y1="268.8" x2="226.9" y2="291.0" stroke="#000" stroke-width="2.4"/>
<line x1="232.8" y1="291.8" x2="467.5" y2="321.9" stroke="#000" stroke-width="2.4"/>
<text class="gl" transform="translate(129,299.6) rotate(4)">CML</text>
<text class="gl" transform="translate(320.8,322.8) rotate(5) skewX(-4)">AML</text>
<text class="gl" transform="translate(456.2,341.2) rotate(4) skewX(-8)">ALL</text>
</svg>
</body></html>
